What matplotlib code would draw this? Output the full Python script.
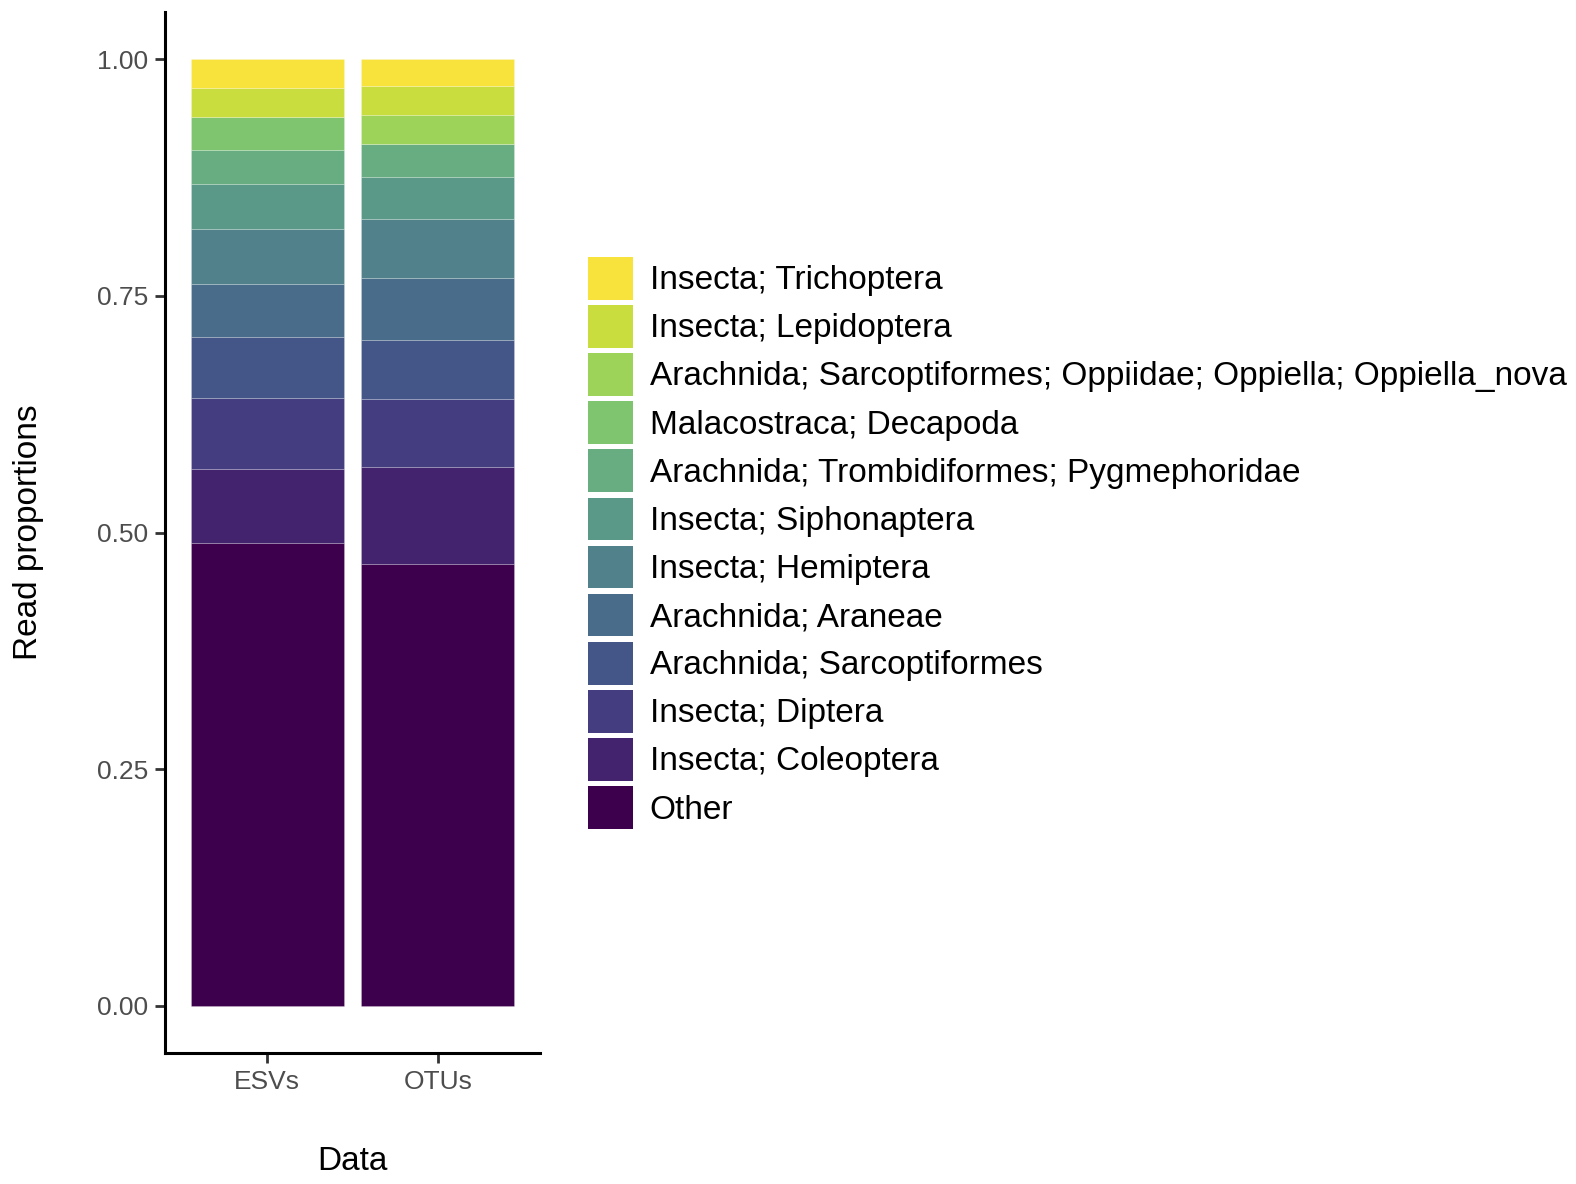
import matplotlib
matplotlib.use("Agg")

import numpy as np
import matplotlib.pyplot as plt
from matplotlib.patches import Patch

plt.rcParams["font.family"] = ["Liberation Sans", "DejaVu Sans"]

# datasets on the x axis
datasets = ["ESVs", "OTUs"]

# taxa, bottom of the stack first
taxa = [
    "Other",
    "Insecta; Coleoptera",
    "Insecta; Diptera",
    "Arachnida; Sarcoptiformes",
    "Arachnida; Araneae",
    "Insecta; Hemiptera",
    "Insecta; Siphonaptera",
    "Arachnida; Trombidiformes; Pygmephoridae",
    "Malacostraca; Decapoda",
    "Arachnida; Sarcoptiformes; Oppiidae; Oppiella; Oppiella_nova",
    "Insecta; Lepidoptera",
    "Insecta; Trichoptera",
]

# read proportions per taxon (same order as taxa)
esv_props = [0.4894, 0.0782, 0.0746, 0.0644, 0.0561, 0.0575,
             0.0481, 0.0364, 0.0340, 0.0000, 0.0308, 0.0305]
otu_props = [0.4664, 0.1023, 0.0725, 0.0623, 0.0658, 0.0616,
             0.0446, 0.0346, 0.0000, 0.0312, 0.0308, 0.0279]

colors = ["#3c004c", "#43236d", "#443d80", "#445688", "#486c89", "#51818b",
          "#5a9888", "#68ac81", "#7fc46f", "#9ed35a", "#c9de3e", "#f7e33c"]

props = np.array([esv_props, otu_props])  # shape (2, 12)

W, H = 1576, 1184
fig = plt.figure(figsize=(W / 100, H / 100), dpi=100)
ax = fig.add_axes([165 / W, 1 - 1053 / H, (540 - 165) / W, (1053 - 12) / H])

x = np.arange(1, len(datasets) + 1)
bottom = np.zeros(len(datasets))
for i, taxon in enumerate(taxa):
    ax.bar(x, props[:, i], width=0.9, bottom=bottom, color=colors[i],
           edgecolor=(1, 1, 1, 0.35), linewidth=0.4)
    bottom += props[:, i]

ax.set_xlim(0.4, 2.6)
ax.set_ylim(-0.05, 1.05)
ax.set_xticks(x)
ax.set_xticklabels(datasets)
ax.set_yticks([0, 0.25, 0.5, 0.75, 1.0])
ax.set_yticklabels(["0.00", "0.25", "0.50", "0.75", "1.00"])

for side in ["top", "right"]:
    ax.spines[side].set_visible(False)
for side in ["left", "bottom"]:
    ax.spines[side].set_linewidth(2.2)
ax.tick_params(axis="both", length=7, width=2.0, colors="#333333",
               labelsize=19, labelcolor="#4d4d4d", pad=5)

ax.set_xlabel("Data", fontsize=24, labelpad=38)
ax.set_ylabel("Read proportions", fontsize=24, labelpad=38)

# legend, top taxon first
handles = [Patch(facecolor=colors[i], edgecolor="none") for i in range(len(taxa))][::-1]
labels = taxa[::-1]
fig.legend(handles, labels, loc="upper left",
           bbox_to_anchor=(588 / W, 1 - 257 / H),
           frameon=False, fontsize=24, borderpad=0, borderaxespad=0,
           handlelength=1.35, handleheight=1.59, handletextpad=0.5,
           labelspacing=0.165)

fig.savefig("out.png", dpi=100)
